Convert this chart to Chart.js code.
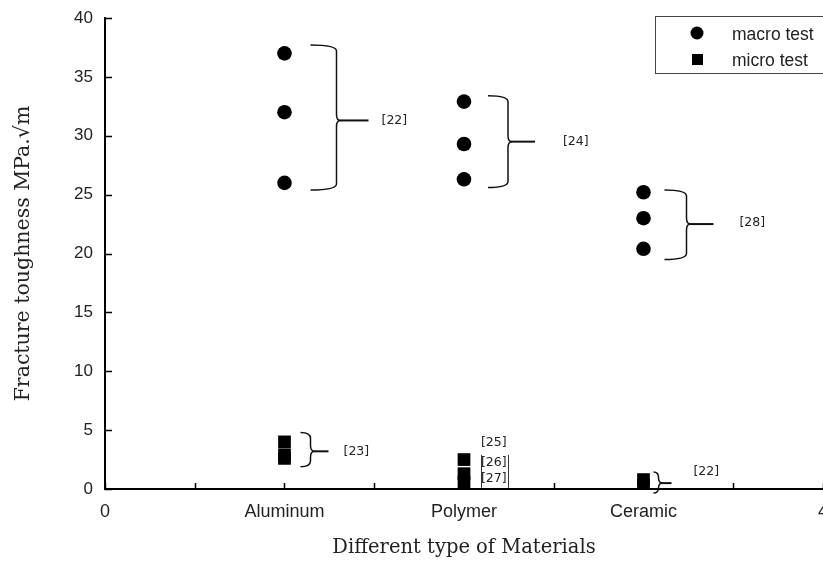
<!DOCTYPE html>
<html>
<head>
<meta charset="utf-8">
<script src="https://cdn.jsdelivr.net/npm/chart.js@4/dist/chart.umd.min.js"></script>
<style>
  html, body { margin: 0; padding: 0; background: #fff; overflow: hidden; }
  canvas { display: block; }
</style>
</head>
<body>
<canvas id="c" width="840" height="563" style="width:840px;height:563px"></canvas>
<script>
// ---- data ----
const xTickLabels = ['0', 'Aluminum', 'Polymer', 'Ceramic', '4'];
const yTicks = [0, 5, 10, 15, 20, 25, 30, 35, 40];

const macroAluminum = [37.0, 32.0, 26.0];
const macroPolymer  = [32.9, 29.3, 26.3];
const macroCeramic  = [25.2, 23.0, 20.4];

const microAluminum = [4.0, 2.9, 2.6];
const microPolymer  = [2.5, 1.3, 0.6];
const microCeramic  = [0.8, 0.3];

// reference braces: category index, value span, label
const braceLabels   = ['[22]', '[24]', '[28]', '[23]', '[22]'];
const braceCategory = [1, 2, 3, 1, 3];
const braceTop      = [37.7, 33.4, 25.4, 4.8, 1.45];
const braceBottom   = [25.4, 25.6, 19.5, 1.9, -0.35];
const braceMid      = [31.3, 29.5, 22.5, 3.2, 0.5];
const braceLabelY   = [31.3, 29.5, 22.6, 3.2, 1.5];

const polymerRefs   = ['[25]', '[26]', '[27]'];
const polymerRefY   = [3.9, 2.2, 0.85];

// ---- styles (pixel offsets from category position) ----
const braceStyle = [
  {arm: 26, vert: 52, tip: 84, lab: 97},
  {arm: 24, vert: 44, tip: 71, lab: 99},
  {arm: 21, vert: 43, tip: 70, lab: 96},
  {arm: 16, vert: 26, tip: 44, lab: 59},
  {arm: 10, vert: 15, tip: 28, lab: 50}
];

function pts(cat, arr) { return arr.map(v => ({x: cat, y: v})); }

const macroData = [].concat(pts(1, macroAluminum), pts(2, macroPolymer), pts(3, macroCeramic));
const microData = [].concat(pts(1, microAluminum), pts(2, microPolymer), pts(3, microCeramic));

const inwardTicks = {
  id: 'inwardTicks',
  afterDatasetsDraw(chart) {
    const ctx = chart.ctx, xs = chart.scales.x, ys = chart.scales.y, a = chart.chartArea;
    ctx.save();
    ctx.strokeStyle = '#000';
    ctx.lineWidth = 1.5;
    ctx.beginPath();
    for (let v = 0; v <= 4; v += 0.5) {
      const px = Math.round(xs.getPixelForValue(v)) + 0.5;
      ctx.moveTo(px, a.bottom); ctx.lineTo(px, a.bottom - 6);
    }
    yTicks.forEach(v => {
      const py = Math.round(ys.getPixelForValue(v)) + 0.5;
      ctx.moveTo(a.left, py); ctx.lineTo(a.left + 7, py);
    });
    ctx.stroke();
    ctx.restore();
  }
};

const bracePlugin = {
  id: 'braces',
  afterDatasetsDraw(chart) {
    const ctx = chart.ctx, xs = chart.scales.x, ys = chart.scales.y;
    ctx.save();
    ctx.strokeStyle = '#111';
    braceLabels.forEach((lab, i) => {
      const cx = xs.getPixelForValue(braceCategory[i]);
      const st = braceStyle[i];
      const yT = ys.getPixelForValue(braceTop[i]);
      const yB = ys.getPixelForValue(braceBottom[i]);
      const yM = ys.getPixelForValue(braceMid[i]);
      const x0 = cx + st.arm, xv = cx + st.vert, xt = cx + st.tip;
      const r = Math.min(6, (yB - yT) / 4);
      ctx.lineWidth = 1.5;
      ctx.beginPath();
      ctx.moveTo(x0, yT);
      ctx.quadraticCurveTo(xv, yT, xv, yT + r);
      ctx.lineTo(xv, yM - r);
      ctx.quadraticCurveTo(xv, yM, xv + 4, yM);
      ctx.quadraticCurveTo(xv, yM, xv, yM + r);
      ctx.lineTo(xv, yB - r);
      ctx.quadraticCurveTo(xv, yB, x0, yB);
      ctx.stroke();
      ctx.lineWidth = 2;
      ctx.beginPath();
      ctx.moveTo(xv + 3, yM);
      ctx.lineTo(xt, yM);
      ctx.stroke();
      ctx.fillStyle = '#222';
      ctx.font = '12.5px "DejaVu Sans"';
      ctx.textAlign = 'left';
      ctx.textBaseline = 'middle';
      ctx.fillText(lab, cx + st.lab, ys.getPixelForValue(braceLabelY[i]));
    });
    // polymer micro references
    const px = xs.getPixelForValue(2);
    ctx.fillStyle = '#222';
    ctx.font = '12.5px "DejaVu Sans"';
    ctx.textAlign = 'left';
    ctx.textBaseline = 'middle';
    polymerRefs.forEach((lab, i) => {
      ctx.fillText(lab, px + 17, ys.getPixelForValue(polymerRefY[i]));
    });
    ctx.lineWidth = 1;
    ctx.strokeStyle = '#333';
    ctx.beginPath();
    const yA = ys.getPixelForValue(2.9), yZ = ys.getPixelForValue(0.1);
    ctx.moveTo(px + 17.5, yA); ctx.lineTo(px + 17.5, yZ);
    ctx.moveTo(px + 44.5, yA); ctx.lineTo(px + 44.5, yZ);
    ctx.stroke();
    ctx.restore();
  }
};

const legendPlugin = {
  id: 'boxLegend',
  afterDraw(chart) {
    const ctx = chart.ctx;
    ctx.save();
    ctx.fillStyle = '#fff';
    ctx.fillRect(655.5, 16.5, 170, 57);
    ctx.strokeStyle = '#444';
    ctx.lineWidth = 1;
    ctx.strokeRect(655.5, 16.5, 170, 57);
    chart.data.datasets.forEach((ds, i) => {
      const y = 33 + i * 26;
      ctx.fillStyle = '#000';
      if (ds.pointStyle === 'circle') {
        ctx.beginPath(); ctx.arc(697, y, 6.5, 0, Math.PI * 2); ctx.fill();
      } else {
        ctx.fillRect(692, y - 5, 11, 11);
      }
      ctx.fillStyle = '#222';
      ctx.font = '17.5px "Liberation Sans"';
      ctx.textAlign = 'left';
      ctx.textBaseline = 'middle';
      ctx.fillText(ds.label, 732, y + 2);
    });
    ctx.restore();
  }
};

new Chart(document.getElementById('c'), {
  type: 'scatter',
  data: {
    datasets: [
      { label: 'macro test', data: macroData, pointStyle: 'circle', pointRadius: 7.3,
        backgroundColor: '#000', borderColor: '#000', borderWidth: 0 },
      { label: 'micro test', data: microData, pointStyle: 'rect', pointRadius: 9,
        backgroundColor: '#000', borderColor: '#000', borderWidth: 0 }
    ]
  },
  options: {
    responsive: false,
    maintainAspectRatio: false,
    animation: false,
    devicePixelRatio: 1,
    layout: { padding: { top: 18, right: 15, bottom: 0, left: 0 } },
    plugins: { legend: { display: false }, tooltip: { enabled: false } },
    scales: {
      x: {
        type: 'linear', min: 0, max: 4,
        afterFit(s) { s.height = 74; },
        grid: { display: false, drawTicks: false },
        border: { display: true, color: '#000', width: 2 },
        ticks: {
          stepSize: 0.5, autoSkip: false, maxRotation: 0, padding: 12,
          color: '#222', font: { family: 'Liberation Sans', size: 18 },
          callback: v => Number.isInteger(v) ? xTickLabels[v] : ''
        },
        title: { display: true, text: 'Different type of Materials', color: '#222',
          font: { family: 'DejaVu Serif', size: 19.5 }, padding: { top: 0, bottom: 3 } }
      },
      y: {
        min: 0, max: 40,
        afterFit(s) { s.width = 105; s.paddingTop = 0; s.paddingBottom = 0; },
        afterBuildTicks(s) { s.ticks = yTicks.map(v => ({value: v})); },
        grid: { display: false, drawTicks: false },
        border: { display: true, color: '#000', width: 2 },
        ticks: { padding: 12, color: '#222', font: { family: 'Liberation Sans', size: 17 } },
        title: { display: true, text: 'Fracture toughness MPa.√m', color: '#222',
          font: { family: 'DejaVu Serif', size: 20.5 }, padding: { top: 11, bottom: 0 } }
      }
    }
  },
  plugins: [inwardTicks, bracePlugin, legendPlugin]
});
</script>
</body>
</html>
